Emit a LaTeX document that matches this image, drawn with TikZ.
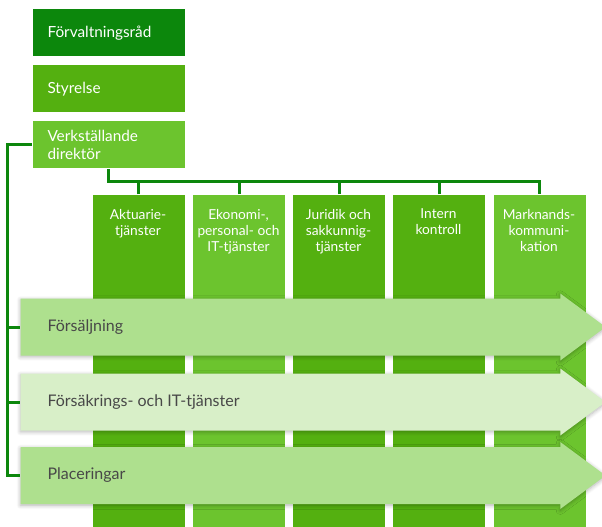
\documentclass[tikz,border=0pt]{standalone}
\usepackage{fontspec}
\setmainfont{Lato}
\usetikzlibrary{shapes.arrows,shadows.blur}

\definecolor{darkgr}{RGB}{12,135,12}
\definecolor{midgr}{RGB}{84,176,16}
\definecolor{lightgr}{RGB}{108,196,46}
\definecolor{bandgr}{RGB}{174,224,142}
\definecolor{palegr}{RGB}{216,239,200}
\definecolor{labelgr}{RGB}{72,72,72}

\tikzset{every picture/.style={line width=0.75pt}}
\tikzset{
  topbox/.style={anchor=north west, text width=91.5pt, inner xsep=11.25pt, inner ysep=0pt,
    minimum height=35.25pt, align=left, text=white, font=\fontsize{11.5}{13}\selectfont},
  colbox/.style={anchor=north west, minimum width=69pt, minimum height=252pt, inner sep=0pt},
  coltext/.style={anchor=north, inner sep=0pt, align=center, text=white,
    font=\fontsize{10.3}{12}\selectfont},
  band/.style={single arrow, single arrow head extend=3.75pt, single arrow tip angle=73,
    inner xsep=0pt, inner ysep=21pt, minimum height=438.75pt, anchor=west,
    blur shadow={shadow xshift=0pt, shadow yshift=-1pt, shadow blur radius=3pt,
      shadow blur steps=6, shadow opacity=30}},
  bandtext/.style={anchor=west, inner sep=0pt, text=labelgr, font=\fontsize{12}{14}\selectfont},
  link/.style={draw=darkgr, line width=2.25pt},
}

\begin{document}
\begin{tikzpicture}[x=0.75pt,y=0.75pt,yscale=-1,xscale=1]
\useasboundingbox (0,0) rectangle (602,527);

% columns
\node [colbox, fill=midgr]   (c1) at (92,194.5) {};
\node [colbox, fill=lightgr] (c2) at (192.5,194.5) {};
\node [colbox, fill=midgr]   (c3) at (292.5,194.5) {};
\node [colbox, fill=midgr]   (c4) at (392.5,194.5) {};
\node [colbox, fill=lightgr] (c5) at (493,194.5) {};

\node [coltext] (c1t) at (138,208.5) {Aktuarie-\\tjänster};
\node [coltext] (c2t) at (238.5,208.5) {Ekonomi-,\\personal- och\\IT-tjänster};
\node [coltext] (c3t) at (338.5,208.5) {Juridik och\\sakkunnig-\\tjänster};
\node [coltext] (c4t) at (438.5,208.5) {Intern\\kontroll};
\node [coltext] (c5t) at (539,208.5) {Marknands-\\kommuni-\\kation};

% arrows
\node [band, fill=bandgr] (salj) at (20,327) {};
\node [band, fill=palegr] (fors) at (20,402) {};
\node [band, fill=bandgr] (plac) at (20,475.5) {};

\node [bandtext] (saljt) at (47,327) {Försäljning};
\node [bandtext] (forst) at (47,402) {Försäkrings- och IT-tjänster};
\node [bandtext] (plact) at (47,475.5) {Placeringar};

% top
\node [topbox, fill=darkgr]  (fvr) at (32,9) {Förvaltningsråd};
\node [topbox, fill=midgr]   (sty) at (32,65) {Styrelse};
\node [topbox, fill=lightgr] (vd)  at (32,121) {Verkställande\\direktör};

\coordinate (bus) at (0,182);
\coordinate (spine) at (7.5,0);

\draw [link] (vd.south) -- (vd.south |- bus) -| (c5.north) ;
\draw [link] (c1.north) -- (c1.north |- bus) ;
\draw [link] (c2.north) -- (c2.north |- bus) ;
\draw [link] (c3.north) -- (c3.north |- bus) ;
\draw [link] (c4.north) -- (c4.north |- bus) ;

\draw [link] (vd.west) -| (spine |- plac.west) -- (plac.west) ;
\draw [link] (spine |- salj.west) -- (salj.west) ;
\draw [link] (spine |- fors.west) -- (fors.west) ;

\end{tikzpicture}
\end{document}
